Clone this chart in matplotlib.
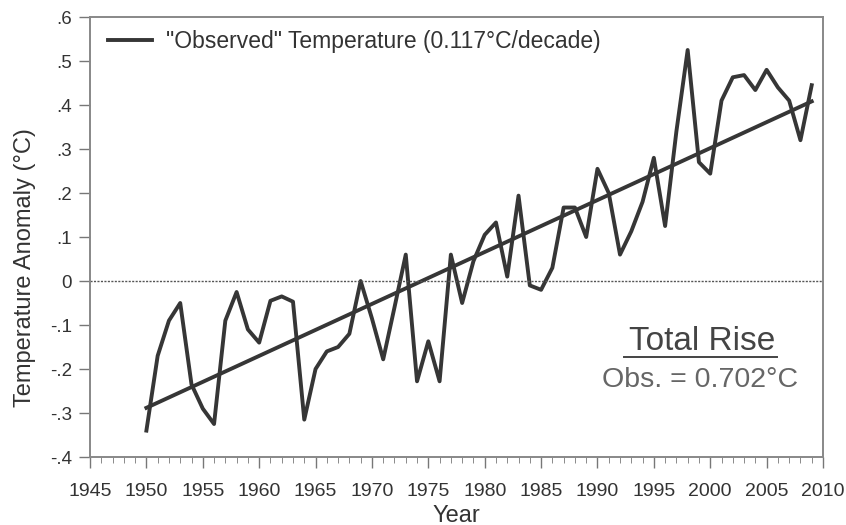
import numpy as np
import matplotlib.pyplot as plt
from matplotlib.ticker import MultipleLocator, FuncFormatter

plt.rcParams['font.family'] = ['Liberation Sans', 'DejaVu Sans']

# Données
years = list(range(1950, 2010))
anomaly = [-0.34, -0.17, -0.09, -0.05, -0.235, -0.29, -0.325, -0.09, -0.025, -0.11,
           -0.14, -0.045, -0.035, -0.047, -0.315, -0.20, -0.16, -0.15, -0.12, 0.00,
           -0.085, -0.178, -0.06, 0.06, -0.228, -0.137, -0.228, 0.06, -0.05, 0.045,
           0.105, 0.133, 0.01, 0.194, -0.01, -0.02, 0.03, 0.167, 0.167, 0.10,
           0.255, 0.20, 0.06, 0.113, 0.18, 0.28, 0.125, 0.34, 0.525, 0.27,
           0.244, 0.41, 0.463, 0.468, 0.434, 0.48, 0.44, 0.41, 0.32, 0.445]

legend_label = '"Observed" Temperature (0.117°C/decade)'
rise_title = 'Total Rise'
rise_text = 'Obs. = 0.702°C'

line_col = '#363636'

fig = plt.figure(figsize=(8.46, 5.25), dpi=100)
ax = fig.add_axes([0.1064, 0.1295, 0.8664, 0.8381])

ax.plot(years, anomaly, color=line_col, lw=2.8, label=legend_label)

# Tendance linéaire
coef = np.polyfit(years, anomaly, 1)
trend = np.polyval(coef, years)
ax.plot(years, trend, color=line_col, lw=2.8)

ax.axhline(0, color='#555555', lw=1.0, ls=(0, (1.5, 1)))

ax.set_xlim(1945, 2010)
ax.set_ylim(-0.4, 0.6)
ax.xaxis.set_major_locator(MultipleLocator(5))
ax.xaxis.set_minor_locator(MultipleLocator(1))
ax.yaxis.set_major_locator(MultipleLocator(0.1))


def fmt_y(v, pos):
    if abs(v) < 1e-9:
        return '0'
    s = f'{v:.1f}'
    return s.replace('0.', '.')


ax.yaxis.set_major_formatter(FuncFormatter(fmt_y))
ax.tick_params(axis='both', which='major', direction='out', length=8, width=1.0,
               color='#777777', labelcolor='#333333')
ax.tick_params(axis='x', which='major', labelsize=14, pad=11)
ax.tick_params(axis='y', which='major', labelsize=13.5, pad=5)
ax.tick_params(axis='x', which='minor', direction='out', length=4, color='#777777')
for s in ax.spines.values():
    s.set_color('#888888')
    s.set_linewidth(1.4)

ax.set_xlabel('Year', fontsize=17, color='#333333', labelpad=3)
ax.set_ylabel('Temperature Anomaly (°C)', fontsize=17, color='#333333')
ax.yaxis.set_label_coords(-0.074, 0.43)

ax.legend(loc='upper left', bbox_to_anchor=(0.0246, 0.97), frameon=False,
          fontsize=16.5, handlelength=1.9, handletextpad=0.65, borderpad=0,
          borderaxespad=0, labelcolor='#333333')

ax.text(0.835, 0.243, rise_title, transform=ax.transAxes, ha='center', va='baseline',
        fontsize=24, color='#444444')
ax.plot([0.7285, 0.937], [0.227, 0.227], transform=ax.transAxes, color='#444444', lw=1.4)
ax.text(0.832, 0.159, rise_text, transform=ax.transAxes, ha='center', va='baseline',
        fontsize=20.5, color='#666666')

fig.savefig('out.png', dpi=100)
